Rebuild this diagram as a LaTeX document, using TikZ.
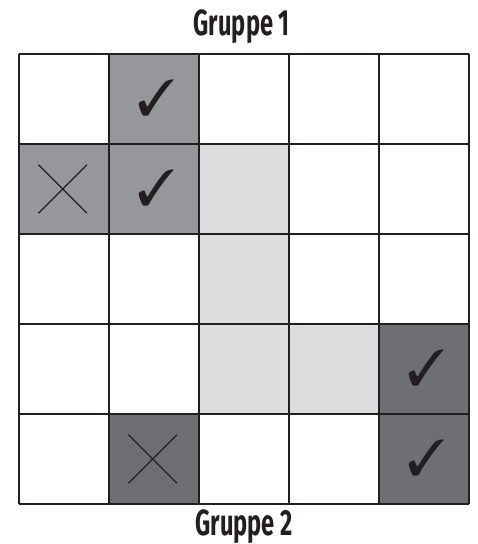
\documentclass[tikz,border=0pt]{standalone}
\usepackage{fontspec}
\usepackage{pifont}
\newfontfamily\titlefont[FakeStretch=0.65]{Fira Sans Bold}
\usetikzlibrary{positioning,calc}
\definecolor{midgray}{RGB}{150,151,155}
\definecolor{darkgray}{RGB}{110,111,115}
\definecolor{lightgray}{RGB}{220,221,223}
\definecolor{ink}{RGB}{35,31,32}

\begin{document}
\begin{tikzpicture}[font=\small]
\tikzstyle{title}=[font=\titlefont\fontsize{23}{23}\selectfont,text=ink,anchor=base,inner sep=0pt]
\tikzstyle{yes}=[inner sep=0pt,font=\fontsize{32}{32}\selectfont,text=ink]
\tikzstyle{cross}=[draw=ink,line width=0.8pt]
\useasboundingbox (-0.4222,-0.8889) rectangle (10.2,11.2);
% shaded cells (column/row counted from top left)
\foreach \c/\r in {1/0,0/1,1/1} \fill[midgray] (\c*2,8-\r*2) rectangle ++(2,2);
\foreach \c/\r in {2/1,2/2,2/3,3/3} \fill[lightgray] (\c*2,8-\r*2) rectangle ++(2,2);
\foreach \c/\r in {4/3,4/4,1/4} \fill[darkgray] (\c*2,8-\r*2) rectangle ++(2,2);
\draw[ink,line width=0.8pt] (0,0) grid[step=2] (10,10);
% ticks and crosses
\foreach \c/\r [count=\k] in {1/0,1/1,4/3,4/4} \node[yes] (tick\k) at (\c*2+1.06,9.02-\r*2) {\ding{51}};
\foreach \c/\r [count=\k] in {0/1,1/4} {
  \coordinate (cross\k) at (\c*2+0.97,9-\r*2);
  \draw[cross] ($(cross\k)+(-0.54,-0.54)$) -- ($(cross\k)+(0.54,0.54)$);
  \draw[cross] ($(cross\k)+(-0.54,0.54)$) -- ($(cross\k)+(0.54,-0.54)$);
}
\node[title] (g1) at (4.95,10.42) {Gruppe 1};
\node[title] (g2) at (5.0,-0.71) {Gruppe 2};
\end{tikzpicture}
\end{document}
